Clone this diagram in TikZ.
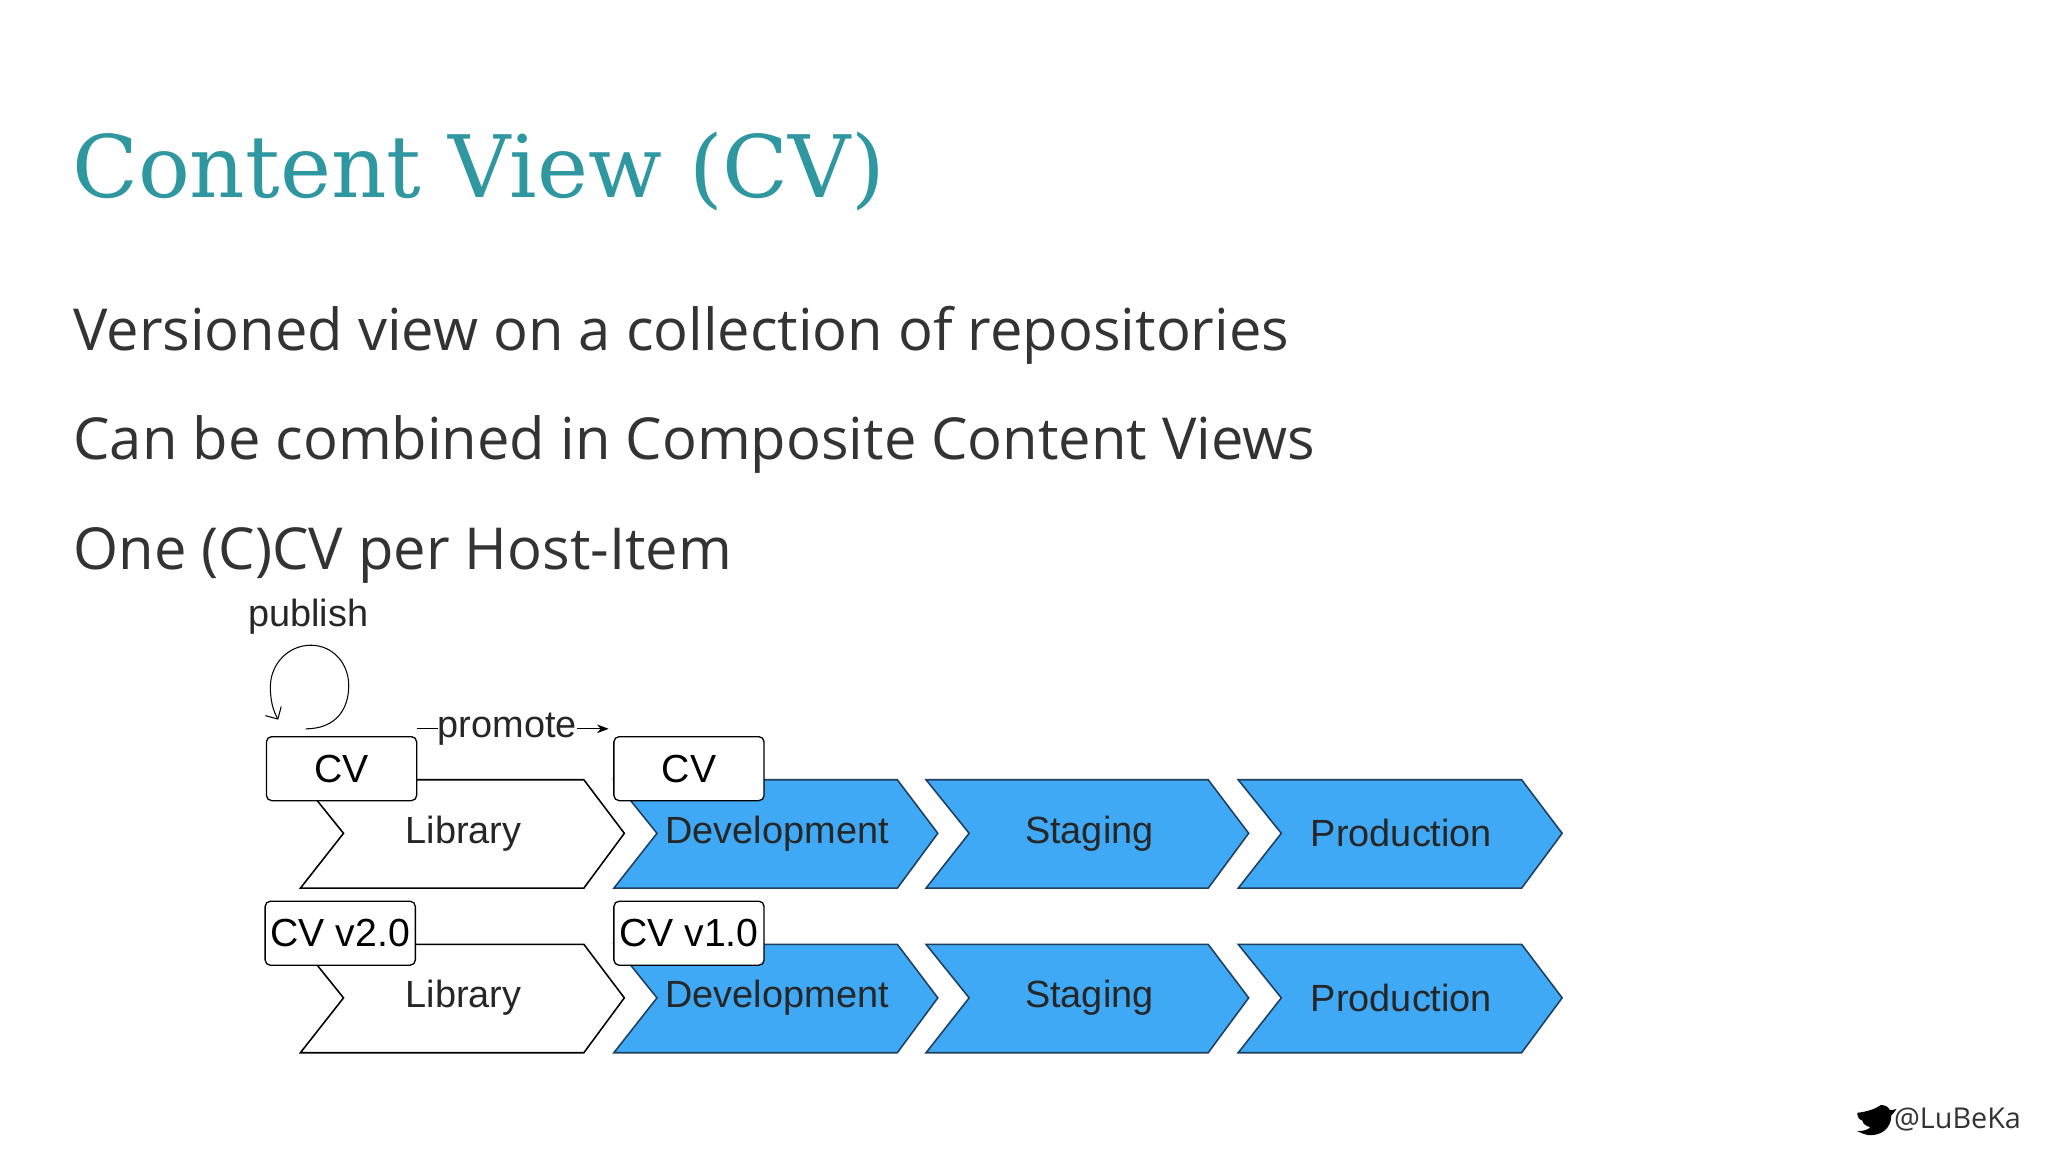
\documentclass[tikz,border=0pt]{standalone}
\usepackage{fontspec}
\setmainfont{Open Sans}
\newfontfamily\titlefont{DejaVu Serif}
\newfontfamily\diafont{Liberation Sans}
\usetikzlibrary{arrows.meta}
\definecolor{teal}{HTML}{2E97A0}
\definecolor{body}{HTML}{333333}
\definecolor{cblue}{HTML}{3FA9F5}
\definecolor{cedge}{HTML}{1F3F5F}
\tikzset{
  cvbox/.style={draw=black, rounded corners=4pt, fill=white, line width=1pt, minimum width=115pt, minimum height=49pt, inner sep=0pt, font=\diafont\fontsize{30}{30}\selectfont},
  lbl/.style={font=\diafont\fontsize{29}{30}\selectfont, text=black!85, inner sep=0pt},
  bodytxt/.style={anchor=base west, inner sep=0pt, text=body, font=\fontsize{44.3}{50}\selectfont}
}
\begin{document}
\begin{tikzpicture}[x=1pt,y=-1pt]
\useasboundingbox[fill=white] (0,0) rectangle (1568,882);
\node[anchor=base west, inner sep=0pt, text=teal, font=\titlefont\fontsize{66}{72}\selectfont] (title) at (55,151) {Content View (CV)};
\node[bodytxt] (l1) at (56,268) {Versioned view on a collection of repositories};
\node[bodytxt] (l2) at (56,352) {Can be combined in Composite Content Views};
\node[bodytxt] (l3) at (56,436) {One (C)CV per Host-Item};
\filldraw[draw=black, fill=white, line width=1.2pt] (230,597) -- (447,597) -- (478,638) -- (447,680) -- (230,680) -- (263,638) -- cycle;
\foreach \a/\b in {470/687,709/925,948/1165}{
  \filldraw[draw=cedge, fill=cblue, line width=1.2pt] (\a,597) -- (\b,597) -- (\b+31,638) -- (\b,680) -- (\a,680) -- (\a+33,638) -- cycle;}
\filldraw[draw=black, fill=white, line width=1.2pt] (230,723) -- (447,723) -- (478,764) -- (447,806) -- (230,806) -- (263,764) -- cycle;
\foreach \a/\b in {470/687,709/925,948/1165}{
  \filldraw[draw=cedge, fill=cblue, line width=1.2pt] (\a,723) -- (\b,723) -- (\b+31,764) -- (\b,806) -- (\a,806) -- (\a+33,764) -- cycle;}
\node[lbl] (lib1) at (355,638) {Library};
\node[lbl] (dev1) at (595,638) {Development};
\node[lbl] (stg1) at (834,638) {Staging};
\node[lbl] (prd1) at (1073,638) {Production};
\node[lbl] (lib2) at (355,764) {Library};
\node[lbl] (dev2) at (595,764) {Development};
\node[lbl] (stg2) at (834,764) {Staging};
\node[lbl] (prd2) at (1073,764) {Production};
\node[cvbox] (cv1) at (261.5,588.5) {CV};
\node[cvbox] (cv2) at (527.5,588.5) {CV};
\node[cvbox] (cv3) at (260.5,714.5) {CV v2.0};
\node[cvbox] (cv4) at (527.5,714.5) {CV v1.0};
% publish
\node[lbl] (pub) at (236,472) {publish};
\coordinate (ps) at (234,558);
\coordinate (pe) at (213,551);
\draw[line width=0.8pt, -{Straight Barb[length=7pt]}] (ps) .. controls (258,558) and (267,542) .. (267,525) .. controls (267,507) and (254,494) .. (238,494) .. controls (221,494) and (207,508) .. (207,526) .. controls (207,536) and (209,544) .. (pe);
% promote
\node[lbl, anchor=west] (prom) at (335,558) {promote};
\coordinate (pa) at (319,558);
\coordinate (pb) at (466,558);
\draw[line width=1pt] (pa) -- (prom.west);
\draw[line width=1pt, -{Stealth[length=9pt]}] (prom.east) -- (pb);
% twitter
\fill[black] (1422,852) .. controls (1430,851) and (1436,849) .. (1440,846) .. controls (1444,846) and (1446,848) .. (1447,850) .. controls (1450,850) and (1451,849) .. (1452,849) .. controls (1450,852) and (1449,853) .. (1448,854) .. controls (1448,864) and (1440,870) .. (1430,869) .. controls (1426,868) and (1424,867) .. (1422,866) .. controls (1427,866) and (1430,865) .. (1432,863) .. controls (1428,862) and (1426,860) .. (1426,858) .. controls (1423,857) and (1422,855) .. cycle;
\node[anchor=west, inner sep=0pt, font=\fontsize{22}{24}\selectfont, text=body] (tw) at (1450,857) {@LuBeKa};
\end{tikzpicture}
\end{document}
